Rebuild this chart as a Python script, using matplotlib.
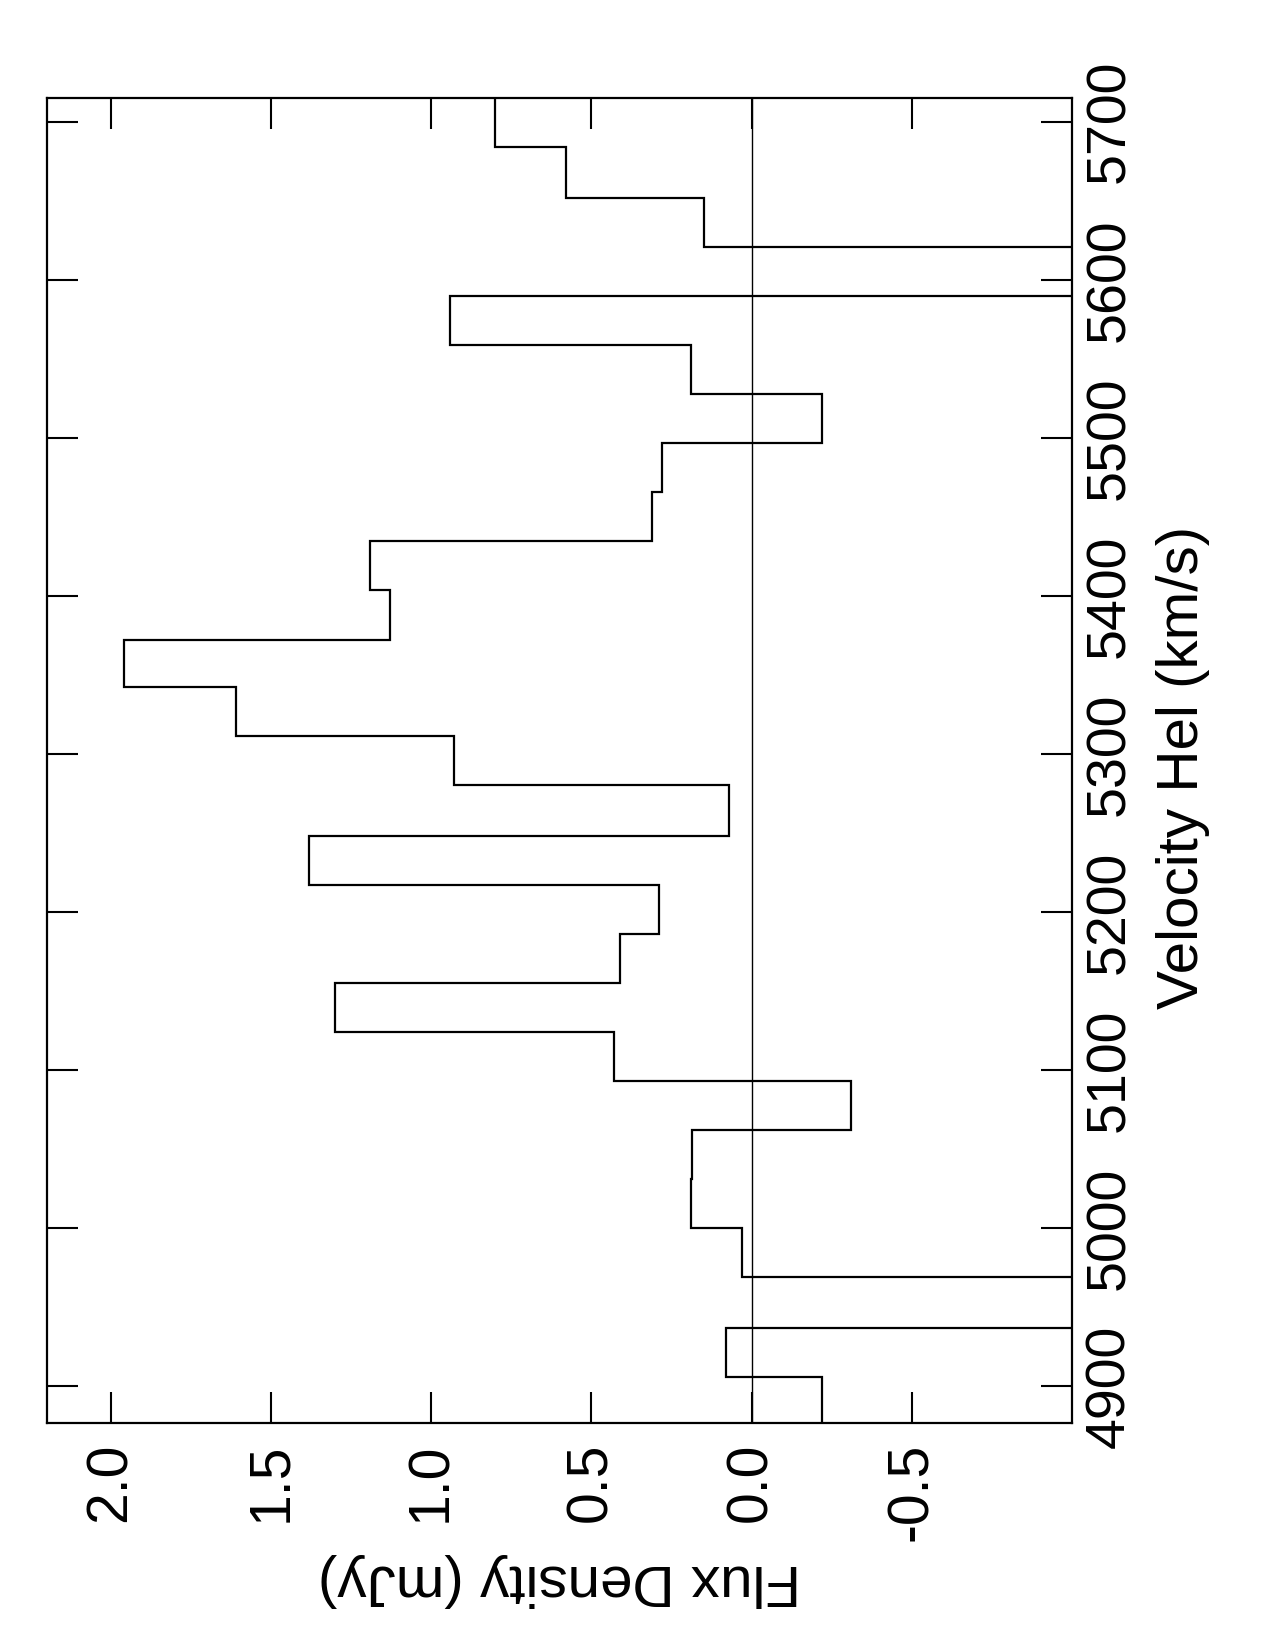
import matplotlib
matplotlib.use("Agg")
import matplotlib.pyplot as plt
from matplotlib.ticker import FormatStrFormatter

plt.rcParams['font.family'] = ['Liberation Sans', 'DejaVu Sans']
plt.rcParams['axes.unicode_minus'] = False

# bin edges (km/s)
vel_edges = [4875, 4906, 4937, 4969, 5000, 5031, 5062, 5093, 5124, 5155,
             5186, 5217, 5248, 5280, 5311, 5342, 5372, 5404, 5435, 5466,
             5497, 5528, 5559, 5590, 5621, 5652, 5684, 5715]
# flux density per channel (mJy); the two deep dips run off the axis
flux = [-0.22, 0.08, -1.30, 0.03, 0.19, 0.186, -0.31, 0.43, 1.30, 0.41,
        0.29, 1.38, 0.07, 0.93, 1.61, 1.96, 1.13, 1.19, 0.31, 0.28,
        -0.22, 0.19, 0.94, -1.30, 0.15, 0.58, 0.80]

flux_ticks = [2.0, 1.5, 1.0, 0.5, 0.0, -0.5]
vel_ticks = [4900, 5000, 5100, 5200, 5300, 5400, 5500, 5600, 5700]

fig = plt.figure(figsize=(12.75, 16.5), dpi=100)
ax = fig.add_axes([0.0366, 0.1374, 0.8042, 0.803])

ax.stairs(flux, vel_edges, orientation='horizontal', baseline=None,
          color='black', linewidth=1.6)
ax.axvline(0.0, color='black', linewidth=1.0)

ax.set_xlim(2.2, -1.0)
ax.set_ylim(4876.4, 5714.8)

ax.set_xticks(flux_ticks)
ax.set_yticks(vel_ticks)
ax.xaxis.set_major_formatter(FormatStrFormatter('%.1f'))

ax.tick_params(axis='both', direction='in', length=22, width=1.5,
               top=True, right=True, left=True, bottom=True,
               labelleft=False, labelright=True)
ax.tick_params(axis='x', labelsize=41, labelrotation=90, pad=14)
ax.tick_params(axis='y', labelsize=40, labelrotation=90, pad=9)
for lab in ax.get_yticklabels():
    lab.set_verticalalignment('center')

for sp in ax.spines.values():
    sp.set_linewidth(1.6)

ax.set_xlabel('Flux Density (mJy)', fontsize=42, rotation=180,
              va='center', ha='center')
ax.xaxis.set_label_coords(0.5, -0.118)

ax.yaxis.set_label_position('right')
ax.set_ylabel('Velocity Hel (km/s)', fontsize=42, rotation=90,
              va='center', ha='center')
ax.yaxis.set_label_coords(1.108, 0.495)

fig.savefig('out.png', dpi=100)
